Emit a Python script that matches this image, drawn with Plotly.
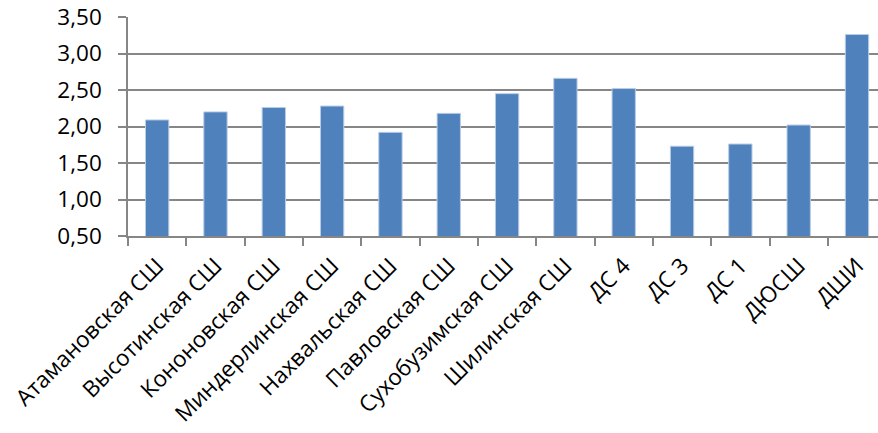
import plotly.graph_objects as go

categories = ["Атамановская СШ", "Высотинская СШ", "Кононовская СШ", "Миндерлинская СШ",
              "Нахвальская СШ", "Павловская СШ", "Сухобузимская СШ", "Шилинская СШ",
              "ДС 4", "ДС 3", "ДС 1", "ДЮСШ", "ДШИ"]
values = [2.09, 2.20, 2.26, 2.28, 1.92, 2.18, 2.45, 2.66, 2.52, 1.73, 1.76, 2.02, 3.26]
y_ticks = [0.5, 1.0, 1.5, 2.0, 2.5, 3.0, 3.5]
y_tick_labels = ["0,50", "1,00", "1,50", "2,00", "2,50", "3,00", "3,50"]

fig = go.Figure(go.Bar(
    x=categories, y=values,
    marker=dict(color="#4F81BD", line=dict(color="#B9CDE5", width=1)),
    width=0.4,
))

font = dict(family="Open Sans", size=22.5, color="#000000")
fig.update_layout(
    width=878, height=433,
    margin=dict(l=128, r=0, t=17, b=197),
    paper_bgcolor="white", plot_bgcolor="white",
    showlegend=False,
    font=font,
)
fig.update_xaxes(
    type="category",
    range=[-0.5, 12.36],
    tickangle=-45,
    automargin=False,
    ticklabelstandoff=6,
    ticks="outside", tickson="boundaries", ticklen=8, tickwidth=1.5, tickcolor="#868686",
    showline=True, linecolor="#868686", linewidth=1.5,
    showgrid=False, tickfont=font,
)
fig.update_yaxes(
    range=[0.5, 3.5],
    automargin=False,
    ticklabelstandoff=12,
    tickvals=y_ticks, ticktext=y_tick_labels,
    ticks="outside", ticklen=8, tickwidth=1.5, tickcolor="#868686",
    showline=True, linecolor="#868686", linewidth=1.5,
    showgrid=True, gridcolor="#868686", gridwidth=1.5,
    zeroline=False, tickfont=font,
)

fig.write_html("out.html", config={"displayModeBar": False},
               post_script="document.body.style.margin='0';document.body.style.overflow='hidden';")
